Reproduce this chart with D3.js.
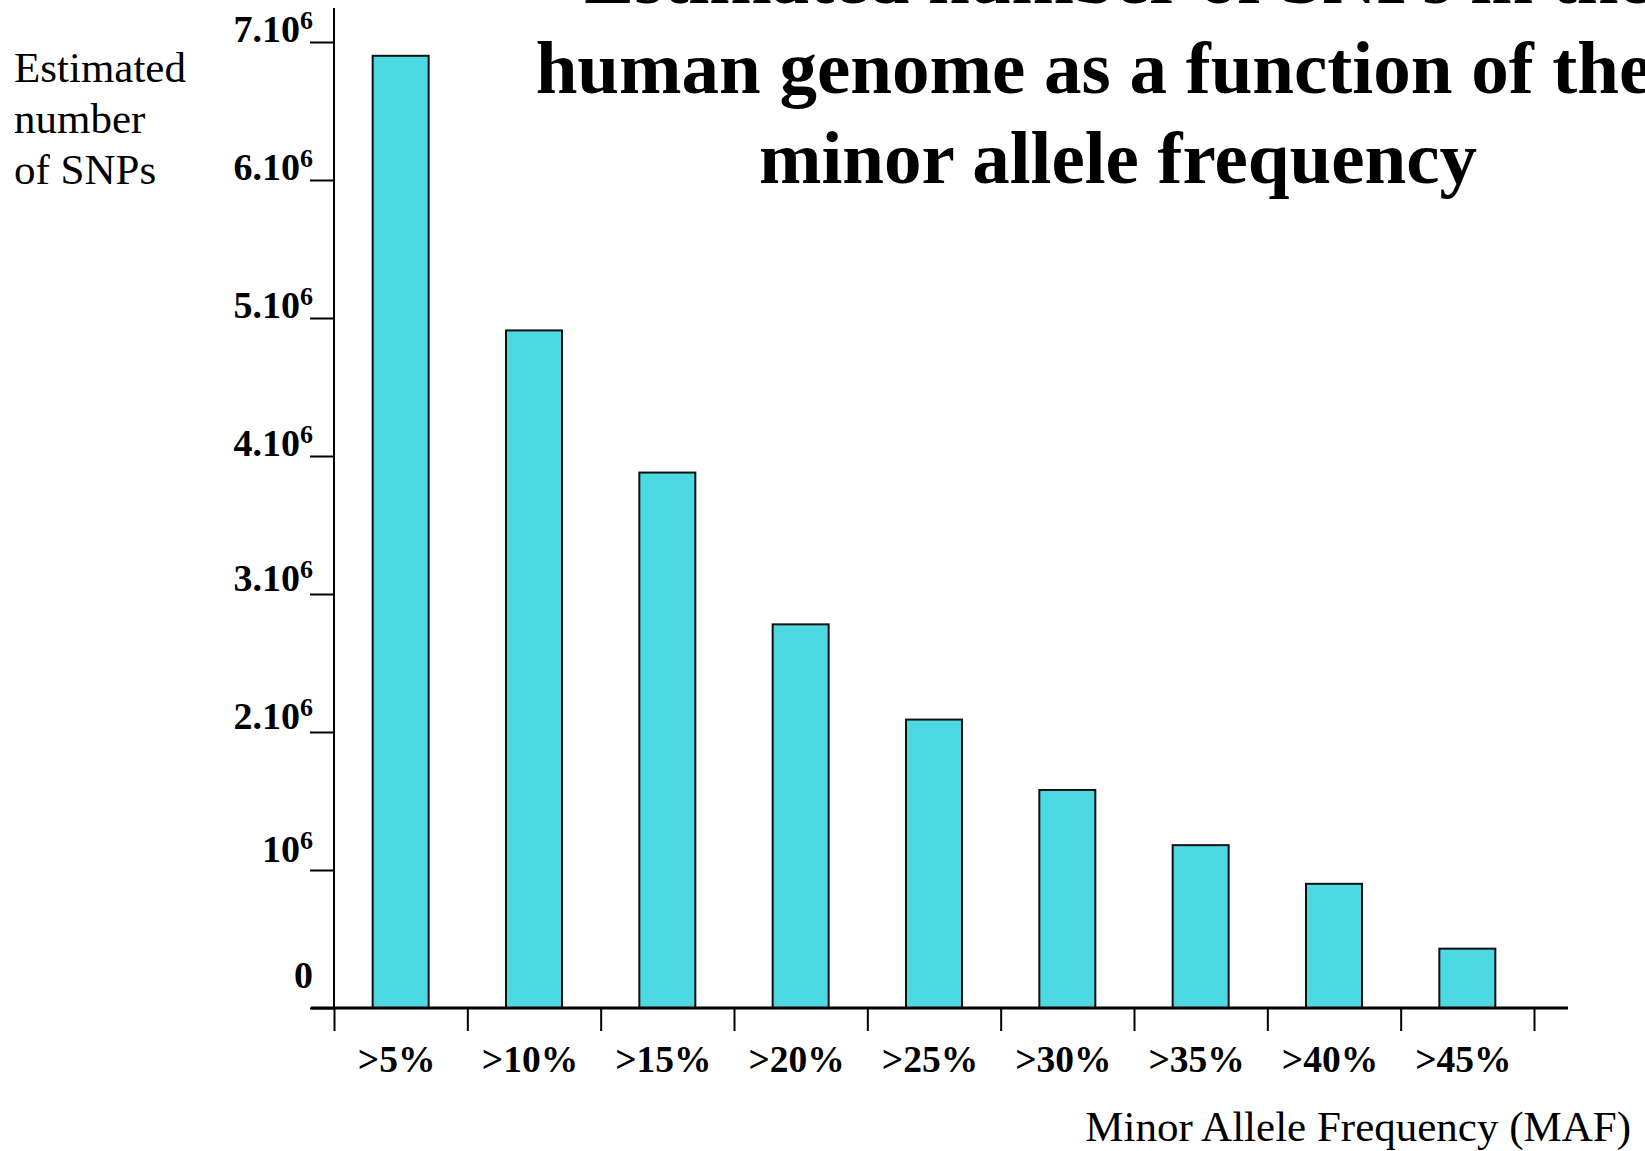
<!DOCTYPE html>
<html>
<head>
<meta charset="utf-8">
<script src="https://cdn.jsdelivr.net/npm/d3@7"></script>
<style>
  html, body { margin: 0; padding: 0; background: #fff; }
  svg { display: block; }
</style>
</head>
<body>
<script>
// data
var categories = [">5%", ">10%", ">15%", ">20%", ">25%", ">30%", ">35%", ">40%", ">45%"];
var snpCounts = [6900000, 4910000, 3880000, 2780000, 2090000, 1580000, 1180000, 900000, 430000];

var yTickValues = [0, 1000000, 2000000, 3000000, 4000000, 5000000, 6000000, 7000000];
var yTickBase = ["0", "10", "2.10", "3.10", "4.10", "5.10", "6.10", "7.10"];
var yTickExp = ["", "6", "6", "6", "6", "6", "6", "6"];

var titleLines = ["Estimated number of SNPs in the", "human genome as a function of the", "minor allele frequency"];
var yLabelLines = ["Estimated", "number", "of SNPs"];
var xLabel = "Minor Allele Frequency (MAF)";

var W = 1645, H = 1151;
var serif = "'Liberation Serif', 'Times New Roman', Times, serif";

var svg = d3.select("body").append("svg")
    .attr("width", W)
    .attr("height", H)
    .style("font-family", serif);

// scales
var x = d3.scaleBand()
    .domain(categories)
    .range([334, 1534])
    .padding(0);

var y = d3.scaleLinear()
    .domain([0, 7000000])
    .range([1008, 42]);

// bars
svg.selectAll("rect.bar")
    .data(snpCounts)
    .enter().append("rect")
    .attr("class", "bar")
    .attr("fill", "#4dd9e2")
    .attr("stroke", "#111")
    .attr("stroke-width", 2)
    .attr("x", function (d, i) { return x(categories[i]) + x.bandwidth() * 0.29; })
    .attr("width", x.bandwidth() * 0.42)
    .attr("y", function (d) { return y(d); })
    .attr("height", function (d) { return y(0) - y(d); });

// x ticks sit on the category edges
var xEdge = d3.scaleLinear().domain([0, categories.length]).range(x.range());
var xAxis = svg.append("g")
    .attr("transform", "translate(0," + y(0) + ")")
    .call(d3.axisBottom(xEdge)
        .tickValues(d3.range(categories.length + 1))
        .tickSize(23)
        .tickFormat(""));
xAxis.select(".domain").remove();
xAxis.selectAll("line").attr("stroke", "#000").attr("stroke-width", 2);

// y ticks
var yAxis = svg.append("g")
    .attr("transform", "translate(334,0)")
    .call(d3.axisLeft(y)
        .tickValues(yTickValues)
        .tickSize(24)
        .tickFormat(""));
yAxis.select(".domain").remove();
yAxis.selectAll("line").attr("stroke", "#000").attr("stroke-width", 2);

// axis lines
svg.append("line")
    .attr("x1", 334).attr("x2", 334)
    .attr("y1", 8).attr("y2", y(0))
    .attr("stroke", "#000").attr("stroke-width", 2);
svg.append("line")
    .attr("x1", 311).attr("x2", 1568)
    .attr("y1", y(0)).attr("y2", y(0))
    .attr("stroke", "#000").attr("stroke-width", 3);

// y tick labels, like 7.10^6
var yLab = svg.selectAll("text.ytick")
    .data(yTickValues)
    .enter().append("text")
    .attr("class", "ytick")
    .attr("text-anchor", "end")
    .attr("x", 313)
    .attr("y", function (d, i) {
        if (d === 0) return y(d) - 20;
        if (i === 1) return y(d) - 8;
        return y(d) - (i < 4 ? 3 : 0);
    })
    .style("font-weight", "bold")
    .style("font-size", "38px");
yLab.append("tspan").text(function (d, i) { return yTickBase[i]; });
yLab.append("tspan")
    .attr("dy", -13)
    .style("font-size", "26px")
    .text(function (d, i) { return yTickExp[i]; });

// x tick labels
svg.selectAll("text.xtick")
    .data(categories)
    .enter().append("text")
    .attr("class", "xtick")
    .attr("text-anchor", "middle")
    .attr("x", function (d) { return x(d) + x.bandwidth() / 2 - 4; })
    .attr("y", 1072)
    .style("font-weight", "bold")
    .style("font-size", "37.5px")
    .text(function (d) { return d; });

// axis titles
svg.append("text")
    .attr("text-anchor", "end")
    .attr("x", 1631)
    .attr("y", 1141)
    .style("font-size", "43px")
    .text(xLabel);

svg.selectAll("text.ylabel")
    .data(yLabelLines)
    .enter().append("text")
    .attr("class", "ylabel")
    .attr("x", 14)
    .attr("y", function (d, i) { return 82 + i * 51; })
    .style("font-size", "43px")
    .text(function (d) { return d; });

// title, first line runs off the top
svg.selectAll("text.title")
    .data(titleLines)
    .enter().append("text")
    .attr("class", "title")
    .attr("text-anchor", "middle")
    .attr("x", function (d, i) { return i === 1 ? 1094 : 1118; })
    .attr("y", function (d, i) { return 3 + i * 90; })
    .style("font-weight", "bold")
    .style("font-size", "75px")
    .text(function (d) { return d; });
</script>
</body>
</html>
